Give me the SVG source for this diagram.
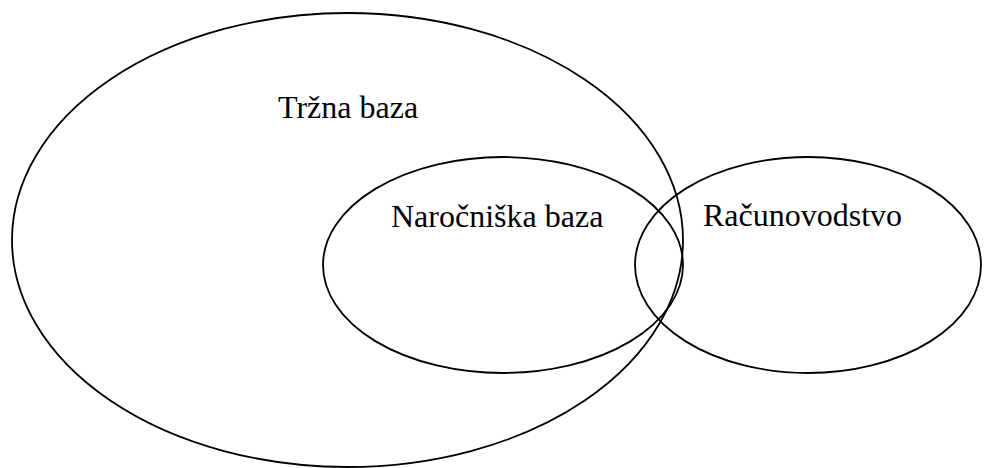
<svg xmlns="http://www.w3.org/2000/svg" width="984" height="468" viewBox="0 0 984 468">
  <style>
    .set { fill: none; stroke: #000; stroke-width: 1.8; }
    .lbl { font-family: "Liberation Serif", "Times New Roman", serif; font-size: 32px; fill: #000; }
  </style>
  <rect width="984" height="468" fill="#fff"/>
  <g id="trzna-baza">
    <ellipse class="set" cx="347.5" cy="240" rx="335.5" ry="227"/>
    <text class="lbl" x="278" y="118">Tržna baza</text>
  </g>
  <g id="narocniska-baza">
    <ellipse class="set" cx="503" cy="265" rx="180" ry="108"/>
    <text class="lbl" x="391" y="227">Naročniška baza</text>
  </g>
  <g id="racunovodstvo">
    <ellipse class="set" cx="808" cy="265" rx="173" ry="108"/>
    <text class="lbl" x="703" y="226">Računovodstvo</text>
  </g>
  <g id="connectors"/>
</svg>
